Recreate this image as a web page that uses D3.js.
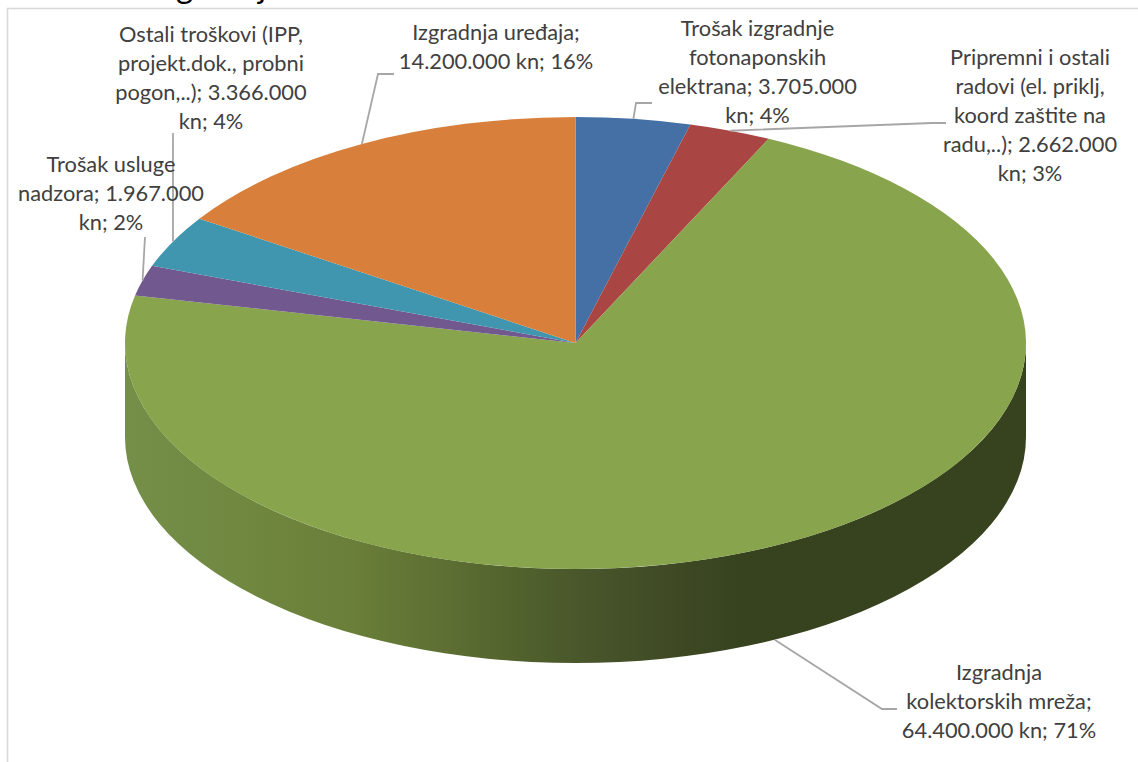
<!DOCTYPE html>
<html><head><meta charset="utf-8">
<script src="https://cdn.jsdelivr.net/npm/d3@7/dist/d3.min.js"></script>
<style>html,body{margin:0;padding:0;background:#fff}svg{display:block}</style>
</head><body><div id="c"></div>
<script>
const categories = [
  "Trošak izgradnje fotonaponskih elektrana",
  "Pripremni i ostali radovi (el. priklj, koord zaštite na radu,..)",
  "Izgradnja kolektorskih mreža",
  "Trošak usluge nadzora",
  "Ostali troškovi (IPP, projekt.dok., probni pogon,..)",
  "Izgradnja uređaja"
];
const values = [3705000, 2662000, 64400000, 1967000, 3366000, 14200000];
const percents = ["4%", "3%", "71%", "2%", "4%", "16%"];
const labelLines = [
  ["Trošak izgradnje", "fotonaponskih", "elektrana; 3.705.000", "kn; 4%"],
  ["Pripremni i ostali", "radovi (el. priklj,", "koord zaštite na", "radu,..); 2.662.000", "kn; 3%"],
  ["Izgradnja", "kolektorskih mreža;", "64.400.000 kn; 71%"],
  ["Trošak usluge", "nadzora; 1.967.000", "kn; 2%"],
  ["Ostali troškovi (IPP,", "projekt.dok., probni", "pogon,..); 3.366.000", "kn; 4%"],
  ["Izgradnja uređaja;", "14.200.000 kn; 16%"]
];
const colors = ["#4570a5", "#a94543", "#88a44d", "#71588f", "#4096ae", "#d8803b"];

const W = 1138, H = 762;
const cx = 575.5, cy = 343, rx = 450.5, ry = 226, depth = 94;
const LH = 28.9;
// label layout: centre x, first baseline, leader route
const labelBox = [
  {x: 757.5, y: 36, route: [[636, 103], [652, 103]]},
  {x: 1030, y: 65, route: [[932, 123], [946, 123]]},
  {x: 999, y: 680, route: [[882, 709], [897, 709]]},
  {x: 111, y: 172, route: [[145, 237]]},
  {x: 211, y: 42, route: [[173, 133]]},
  {x: 496, y: 40, route: [[378, 74], [394, 74]]}
];

const svg = d3.select("#c").append("svg").attr("width", W).attr("height", H);

// chart frame
svg.append("rect").attr("x", 7.5).attr("y", 8.5).attr("width", W + 20).attr("height", H + 20)
  .attr("fill", "#fff").attr("stroke", "#d9d9d9").attr("stroke-width", 1.6);

// clipped title from the surrounding page
svg.append("text").attr("x", 176).attr("y", -2).attr("font-family", "Lato")
  .attr("font-size", 33).attr("fill", "#000").text("gradnje");

const grad = svg.append("defs").append("linearGradient").attr("id", "wall")
  .attr("gradientUnits", "userSpaceOnUse")
  .attr("x1", cx - rx).attr("x2", cx + rx).attr("y1", 0).attr("y2", 0);
[[125, "#748f49"], [250, "#70873f"], [350, "#6a7f39"], [440, "#5e7033"], [500, "#54652e"],
 [600, "#47532a"], [740, "#37421f"], [1026, "#37421f"]].forEach(([x, c]) =>
  grad.append("stop").attr("offset", (x - 125) / 901).attr("stop-color", c));

// side wall
svg.append("path")
  .attr("d", `M${cx - rx},${cy}A${rx},${ry} 0 0 0 ${cx + rx},${cy}L${cx + rx},${cy + depth}A${rx},${ry} 0 0 1 ${cx - rx},${cy + depth}Z`)
  .attr("fill", "url(#wall)");

// top surface
const pie = d3.pie().sort(null).value(d => d)(values);
const arc = d3.arc().innerRadius(0).outerRadius(rx);
svg.append("g").attr("transform", `translate(${cx},${cy}) scale(1,${ry / rx})`)
  .selectAll("path").data(pie).join("path")
  .attr("d", arc).attr("fill", (d, i) => colors[i]);

// leader lines, anchored on each slice's mid-angle
const rim = d => {
  const a = (d.startAngle + d.endAngle) / 2;
  const wall = Math.cos(a) < -0.5 ? depth : 0;
  return [cx + rx * Math.sin(a), cy - ry * Math.cos(a) + wall];
};
svg.append("g").selectAll("path").data(pie).join("path")
  .attr("d", (d, i) => d3.line()([rim(d), ...labelBox[i].route]))
  .attr("fill", "none").attr("stroke", "#a6a6a6").attr("stroke-width", 1.8);

// data labels
const g = svg.append("g").attr("font-family", "Lato").attr("font-size", 21.8)
  .attr("fill", "#404040").attr("text-anchor", "middle");
labelLines.forEach((lines, i) => {
  lines.forEach((t, j) => {
    g.append("text").attr("x", labelBox[i].x).attr("y", labelBox[i].y + j * LH).text(t);
  });
});
</script></body></html>
